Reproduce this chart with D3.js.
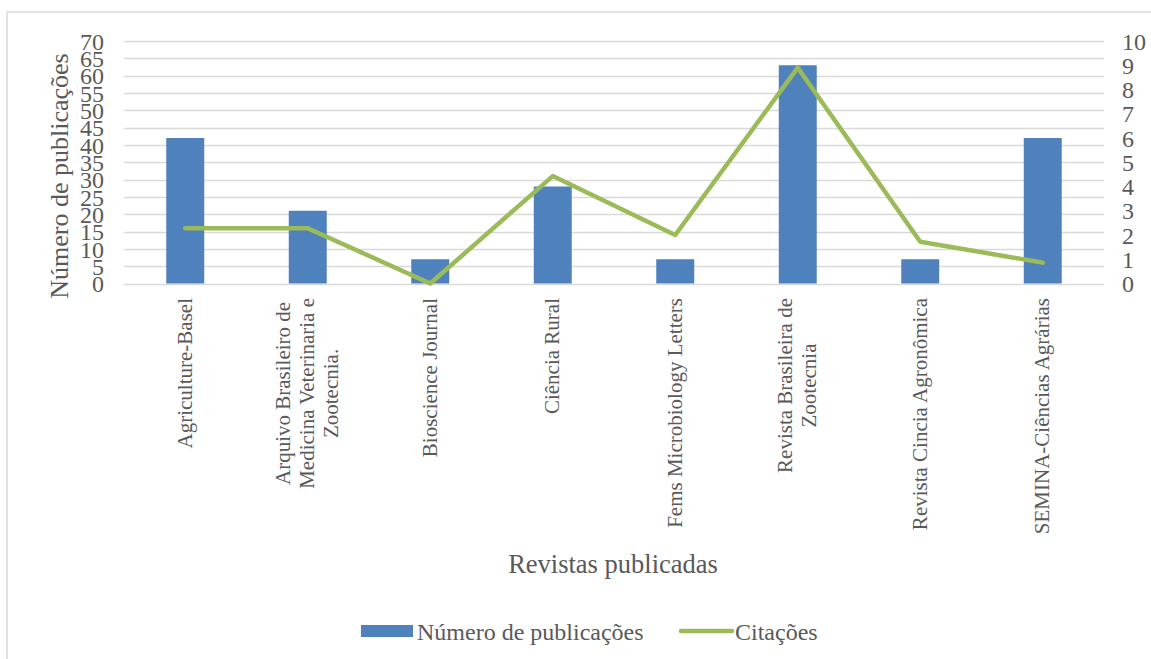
<!DOCTYPE html>
<html>
<head>
<meta charset="utf-8">
<script src="https://cdn.jsdelivr.net/npm/d3@7"></script>
<style>
  html, body { margin: 0; padding: 0; background: #fff; }
  svg { display: block; }
  text { font-family: "Liberation Serif", "Times New Roman", serif; fill: #595959; }
</style>
</head>
<body>
<svg id="chart" width="1151" height="659"></svg>
<script>
// ---- data ----
const categories = [
  ["Agriculture-Basel"],
  ["Arquivo Brasileiro de", "Medicina Veterinaria e", "Zootecnia."],
  ["Bioscience Journal"],
  ["Ciência Rural"],
  ["Fems Microbiology Letters"],
  ["Revista Brasileira de", "Zootecnia"],
  ["Revista Cincia Agronômica"],
  ["SEMINA-Ciências Agrárias"]
];
const publicacoes = [42, 21, 7, 28, 7, 63, 7, 42];
const citacoes = [2.28, 2.28, 0, 4.43, 2.0, 8.9, 1.72, 0.86];
const leftTicks = [0, 5, 10, 15, 20, 25, 30, 35, 40, 45, 50, 55, 60, 65, 70];
const rightTicks = [0, 1, 2, 3, 4, 5, 6, 7, 8, 9, 10];
const seriesNames = ["Número de publicações", "Citações"];
const yTitle = "Número de publicações";
const xTitle = "Revistas publicadas";

// ---- layout ----
const svg = d3.select("#chart");
const plot = { left: 124, right: 1104, top: 41, bottom: 283.5 };
const blue = "#4F81BD", green = "#9BBB59", grid = "#D9D9D9";

// outer border
svg.append("rect").attr("x", 7).attr("y", 12).attr("width", 1160).attr("height", 700)
  .attr("fill", "none").attr("stroke", grid).attr("stroke-width", 1.5);

const x = d3.scaleBand().domain(d3.range(categories.length))
  .range([plot.left, plot.right]).paddingInner(0.69).paddingOuter(0.345);
const xc = d3.scaleBand().domain(d3.range(categories.length)).range([plot.left, plot.right]);
const yL = d3.scaleLinear().domain([0, 70]).range([plot.bottom, plot.top]);
const yR = d3.scaleLinear().domain([0, 10]).range([plot.bottom, plot.top]);

// gridlines
svg.append("g").selectAll("line").data(leftTicks).join("line")
  .attr("x1", plot.left).attr("x2", plot.right)
  .attr("y1", d => Math.round(yL(d)) + 0.5).attr("y2", d => Math.round(yL(d)) + 0.5)
  .attr("stroke", grid).attr("stroke-width", 1.5);

// left axis
const gL = svg.append("g").attr("transform", `translate(${plot.left - 20},0)`)
  .call(d3.axisLeft(yL).tickValues(leftTicks).tickSize(0).tickPadding(0));
gL.select(".domain").remove();
gL.selectAll("text").attr("font-size", 24).attr("dy", "0.34em")
  .style("font-family", "Liberation Serif").attr("fill", "#595959");

// right axis
const gR = svg.append("g").attr("transform", `translate(${plot.right + 18},0)`)
  .call(d3.axisRight(yR).tickValues(rightTicks).tickSize(0).tickPadding(0));
gR.select(".domain").remove();
gR.selectAll("text").attr("font-size", 24).attr("dy", "0.34em")
  .style("font-family", "Liberation Serif").attr("fill", "#595959");

// bars
svg.append("g").selectAll("rect").data(publicacoes).join("rect")
  .attr("x", (d, i) => x(i)).attr("width", x.bandwidth())
  .attr("y", d => yL(d)).attr("height", d => yL(0) - yL(d))
  .attr("fill", blue);

// line
const line = d3.line().x((d, i) => xc(i) + xc.bandwidth() / 2).y(d => yR(d));
svg.append("path").datum(citacoes).attr("d", line)
  .attr("fill", "none").attr("stroke", green).attr("stroke-width", 4.5)
  .attr("stroke-linejoin", "round").attr("stroke-linecap", "round");

// category labels
const labelTop = 298, lineGap = 24, catFont = 21;
categories.forEach((lines, i) => {
  const cx = xc(i) + xc.bandwidth() / 2;
  const g = svg.append("g");
  const texts = lines.map(l => g.append("text").text(l).attr("font-size", catFont));
  const maxLen = d3.max(texts, t => t.node().getComputedTextLength());
  const midY = labelTop + maxLen / 2;
  const n = lines.length;
  texts.forEach((t, k) => {
    const lx = cx + (k - (n - 1) / 2) * lineGap;
    t.attr("text-anchor", "middle").attr("dy", "0.32em")
      .attr("transform", `translate(${lx},${midY}) rotate(-90)`);
  });
});

// axis titles
svg.append("text").text(yTitle).attr("font-size", 26).attr("text-anchor", "middle")
  .attr("transform", `translate(60,176) rotate(-90)`).attr("dy", "0.32em");
svg.append("text").text(xTitle).attr("font-size", 26.5).attr("text-anchor", "middle")
  .attr("x", 613).attr("y", 573);

// legend
const lg = svg.append("g");
lg.append("rect").attr("x", 361).attr("y", 625).attr("width", 52).attr("height", 12).attr("fill", blue);
lg.append("text").text(seriesNames[0]).attr("x", 417).attr("y", 640).attr("font-size", 24);
lg.append("line").attr("x1", 681).attr("x2", 732).attr("y1", 631).attr("y2", 631)
  .attr("stroke", green).attr("stroke-width", 4.5).attr("stroke-linecap", "round");
lg.append("text").text(seriesNames[1]).attr("x", 735).attr("y", 640).attr("font-size", 24);
</script>
</body>
</html>
